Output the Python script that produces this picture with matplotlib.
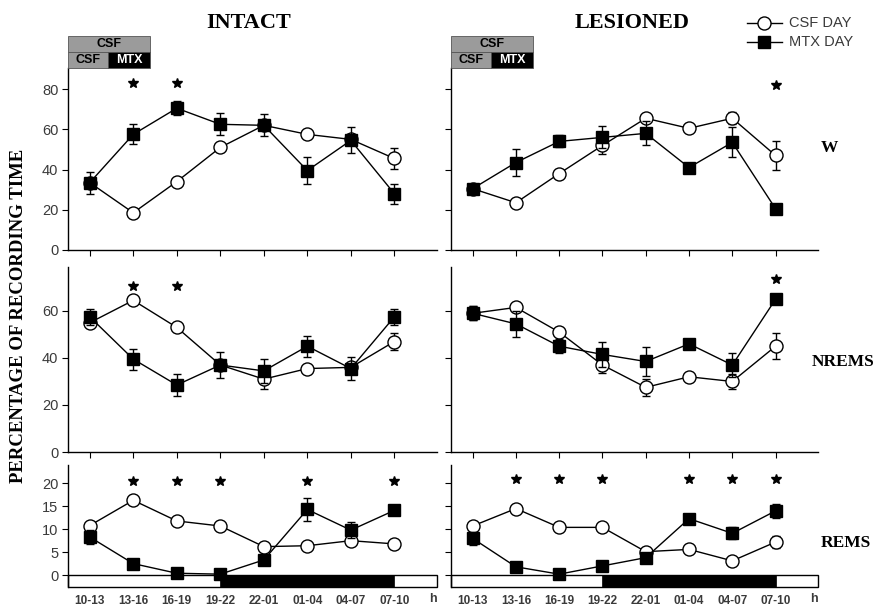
import matplotlib
matplotlib.use("Agg")
import matplotlib.pyplot as plt
from matplotlib.patches import Rectangle
from matplotlib.lines import Line2D

hours = ["10-13", "13-16", "16-19", "19-22", "22-01", "01-04", "04-07", "07-10"]

intact_W_csf = [33.5, 18.5, 34, 51, 62, 57.5, 55, 45.5]
intact_W_csf_err = [2, 1.5, 1.5, 2, 2, 1.5, 2, 5]
intact_W_mtx = [33.5, 57.5, 70.5, 62.5, 62, 39.5, 54.5, 28]
intact_W_mtx_err = [5.5, 5, 3.5, 5.5, 5.5, 6.5, 6.5, 5]
lesioned_W_csf = [30.5, 23.5, 38, 52, 65.5, 60.5, 65.5, 47]
lesioned_W_csf_err = [1.5, 1, 1.5, 4.5, 2, 1.5, 3, 7]
lesioned_W_mtx = [30.5, 43.5, 54, 56, 58, 41, 53.5, 20.5]
lesioned_W_mtx_err = [1.5, 6.5, 3, 5.5, 6, 1.5, 7.5, 2]

intact_N_csf = [55, 64.5, 53, 37, 31, 35.5, 36, 47]
intact_N_csf_err = [2, 1.5, 1.5, 2, 4, 1.5, 2, 3.5]
intact_N_mtx = [57.5, 39.5, 28.5, 37, 34.5, 45, 35.5, 57.5]
intact_N_mtx_err = [3.5, 4.5, 4.5, 5.5, 5, 4.5, 5, 3.5]
lesioned_N_csf = [59, 61.5, 51, 37, 27.5, 32, 30, 45]
lesioned_N_csf_err = [3, 1.5, 1.5, 3.5, 3.5, 1.5, 3, 5.5]
lesioned_N_mtx = [59, 54.5, 45, 41.5, 38.5, 46, 37, 65]
lesioned_N_mtx_err = [3, 5.5, 3, 5.5, 6, 1.5, 5, 2]

intact_R_csf = [10.8, 16.3, 11.8, 10.7, 6.2, 6.4, 7.5, 6.8]
intact_R_csf_err = [0.7, 0.5, 0.5, 0.7, 0.5, 0.5, 1, 0.5]
intact_R_mtx = [8.3, 2.5, 0.4, 0.2, 3.3, 14.3, 9.8, 14.1]
intact_R_mtx_err = [1.6, 0.5, 0.3, 0.3, 0.5, 2.6, 1.8, 0.8]
lesioned_R_csf = [10.7, 14.5, 10.4, 10.4, 5.1, 5.6, 3.1, 7.2]
lesioned_R_csf_err = [0.7, 0.5, 0.5, 0.5, 0.5, 0.5, 0.5, 1.3]
lesioned_R_mtx = [8, 1.8, 0.2, 2, 3.8, 12.3, 9.1, 14]
lesioned_R_mtx_err = [1.5, 0.5, 0.3, 0.4, 0.5, 1, 1.3, 1.5]

# significance marks: indices and height
intact_W_sig = [1, 2]; intact_W_sig_y = 83
lesioned_W_sig = [7]; lesioned_W_sig_y = 82
intact_N_sig = [1, 2]; intact_N_sig_y = 70.5
lesioned_N_sig = [7]; lesioned_N_sig_y = 73.5
intact_R_sig = [1, 2, 3, 5, 7]; intact_R_sig_y = 20.5
lesioned_R_sig = [1, 2, 3, 5, 6, 7]; lesioned_R_sig_y = 21

dark_start, dark_end = 3, 7

W, H = 875, 608
fig = plt.figure(figsize=(W / 100, H / 100), dpi=100)

SANS = "Liberation Sans"
SERIF = "Liberation Serif"
TICKC = "#3a3a3a"

def px(x, y):
    return x / W, 1 - y / H

cols = [(68, 369), (451, 367)]
rows = [(68, 250), (267, 452), (465, 587)]
ylims = [(0, 90.5), (0, 78.7), (-2.6, 24)]
yticks = [[0, 20, 40, 60, 80], [0, 20, 40, 60], [0, 5, 10, 15, 20]]

data = [
    [(intact_W_csf, intact_W_csf_err, intact_W_mtx, intact_W_mtx_err, intact_W_sig, intact_W_sig_y),
     (lesioned_W_csf, lesioned_W_csf_err, lesioned_W_mtx, lesioned_W_mtx_err, lesioned_W_sig, lesioned_W_sig_y)],
    [(intact_N_csf, intact_N_csf_err, intact_N_mtx, intact_N_mtx_err, intact_N_sig, intact_N_sig_y),
     (lesioned_N_csf, lesioned_N_csf_err, lesioned_N_mtx, lesioned_N_mtx_err, lesioned_N_sig, lesioned_N_sig_y)],
    [(intact_R_csf, intact_R_csf_err, intact_R_mtx, intact_R_mtx_err, intact_R_sig, intact_R_sig_y),
     (lesioned_R_csf, lesioned_R_csf_err, lesioned_R_mtx, lesioned_R_mtx_err, lesioned_R_sig, lesioned_R_sig_y)],
]

x = list(range(len(hours)))

for r, (ytop, ybot) in enumerate(rows):
    for c, (xl, wd) in enumerate(cols):
        x0, y0 = px(xl, ybot)
        ax = fig.add_axes([x0, y0, wd / W, (ybot - ytop) / H])
        csf, csf_e, mtx, mtx_e, sig, sig_y = data[r][c]
        ax.errorbar(x, csf, yerr=csf_e, fmt='-o', color='black', lw=1,
                    ms=9.4, mfc='white', mec='black', mew=1, capsize=3,
                    elinewidth=1, capthick=1, zorder=3)
        ax.errorbar(x, mtx, yerr=mtx_e, fmt='-s', color='black', lw=1,
                    ms=8.6, mfc='black', mec='black', capsize=3,
                    elinewidth=1, capthick=1, zorder=4)
        ax.plot(sig, [sig_y] * len(sig), ls='none', marker='*', ms=7,
                color='black', zorder=5)
        ax.set_xlim(-0.5, 7.98)
        ax.set_ylim(*ylims[r])
        ax.set_yticks(yticks[r])
        for s in ['top', 'right']:
            ax.spines[s].set_visible(False)
        ax.spines['left'].set_linewidth(1)
        ax.spines['bottom'].set_linewidth(1)
        ax.tick_params(axis='y', direction='out', length=4, width=0.8,
                       labelsize=10.5, labelcolor=TICKC, pad=3)
        if c == 1:
            ax.tick_params(axis='y', labelleft=False)
        else:
            for t in ax.get_yticklabels():
                t.set_fontfamily(SANS)
        ax.set_xticks(x)
        if r < 2:
            ax.tick_params(axis='x', direction='out', length=4, width=0.8,
                           labelbottom=False)
        else:
            ax.spines['bottom'].set_visible(False)
            ax.add_patch(Rectangle((-0.5, ylims[r][0]), 8.48, -ylims[r][0],
                                   facecolor='white', edgecolor='black', lw=1,
                                   clip_on=False, zorder=1))
            ax.add_patch(Rectangle((dark_start, ylims[r][0]), dark_end - dark_start,
                                   -ylims[r][0], facecolor='black',
                                   edgecolor='black', lw=0.5, clip_on=False,
                                   zorder=1.5))
            ax.tick_params(axis='x', length=0, pad=6)
            ax.set_xticklabels(hours, fontfamily=SANS, fontweight='bold',
                               fontsize=8.5, color=TICKC)
            ax.spines['left'].set_bounds(ylims[r][0], ylims[r][1])
            fig.text(*px(xl + wd - 4, 599), "h", ha='center', va='center',
                     fontfamily=SANS, fontweight='bold', fontsize=9,
                     color=TICKC)

        if r == 0:
            # header boxes CSF / CSF MTX
            gx0 = xl
            for (bx, by, bw, bh, fc, txt, tc) in [
                (gx0, 36, 82, 16, '#9b9b9b', 'CSF', 'black'),
                (gx0, 52, 40, 16, '#9b9b9b', 'CSF', 'black'),
                (gx0 + 40, 52, 42, 16, 'black', 'MTX', 'white'),
            ]:
                fx, fy = px(bx, by + bh)
                fig.add_artist(Rectangle((fx, fy), bw / W, bh / H,
                                         transform=fig.transFigure,
                                         facecolor=fc, edgecolor='#555555',
                                         lw=0.6))
                tx, ty = px(bx + bw / 2, by + bh / 2)
                fig.text(tx, ty, txt, ha='center', va='center', fontsize=9,
                         fontfamily=SANS, fontweight='bold', color=tc)

# titles
fig.text(*px(249, 23), "INTACT", ha='center', va='center', fontsize=16,
         fontfamily=SERIF, fontweight='bold')
fig.text(*px(632, 23), "LESIONED", ha='center', va='center', fontsize=16,
         fontfamily=SERIF, fontweight='bold')

# right labels
for lbl, xx, yy in [("W", 829, 148), ("NREMS", 843, 362), ("REMS", 846, 543)]:
    fig.text(*px(xx, yy), lbl, ha='center', va='center', fontsize=12.5,
             fontfamily=SERIF, fontweight='bold')

# y label
fig.text(*px(19, 316), "PERCENTAGE OF RECORDING TIME", rotation=90,
         ha='center', va='center', fontsize=13.5, fontfamily=SERIF,
         fontweight='bold')

# legend
for lab, yy, mk, mf in [("CSF DAY", 23, 'o', 'white'), ("MTX DAY", 42, 's', 'black')]:
    a, b = px(747, yy)
    c2, _ = px(782, yy)
    fig.add_artist(Line2D([a, c2], [b, b], transform=fig.transFigure,
                          color='black', lw=1))
    m, _ = px(764, yy)
    fig.add_artist(Line2D([m], [b], transform=fig.transFigure, marker=mk,
                          ms=9.4 if mk == 'o' else 8.6, mfc=mf, mec='black',
                          color='black', ls='none'))
    fig.text(*px(789, yy), lab, ha='left', va='center', fontsize=10.5,
             fontfamily=SANS, color=TICKC)

fig.savefig("out.png", dpi=100)
